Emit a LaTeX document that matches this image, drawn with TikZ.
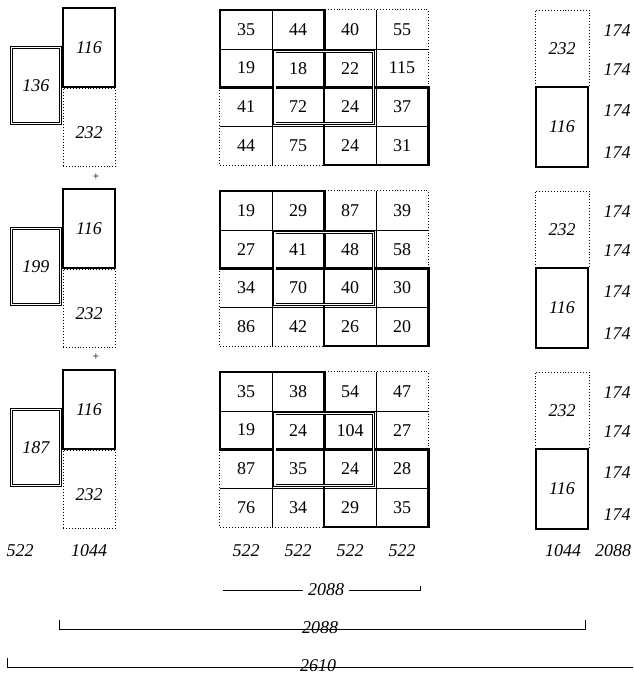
\documentclass[tikz,border=0pt]{standalone}
\usepackage{fontspec}
\setmainfont{Liberation Serif}
\usetikzlibrary{positioning}

\begin{document}
\begin{tikzpicture}[
  x=1pt, y=-1pt,
  every node/.style={font=\fontsize{18}{20}\selectfont},
  cell/.style={minimum width=52pt, minimum height=38.75pt, inner sep=0pt},
  dim/.style={font=\fontsize{18}{20}\selectfont\itshape, inner sep=1pt},
  heavybox/.style={draw, line width=2.6pt, minimum width=52pt, minimum height=79pt, inner sep=0pt, font=\fontsize{18}{20}\selectfont\itshape},
  dotbox/.style={draw, dotted, line width=0.9pt, minimum width=52pt, minimum height=78pt, inner sep=0pt, font=\fontsize{18}{20}\selectfont\itshape},
  dblbox/.style={draw, double, line width=0.9pt, double distance=1.6pt, minimum width=49pt, minimum height=76pt, inner sep=0pt, font=\fontsize{18}{20}\selectfont\itshape},
  heavy/.style={line width=2.6pt},
  thinline/.style={line width=0.8pt},
  dots/.style={dotted, line width=0.9pt},
  dblline/.style={double, line width=0.7pt, double distance=1.4pt}
]
  \useasboundingbox (0,0) rectangle (633,678);

  % cells of the three grids
  \foreach \v [count=\c] in {35,44,40,55}  \node[cell] (a-1-\c) at ({194+52*\c},29.4) {\v};
  \foreach \v [count=\c] in {19,18,22,115} \node[cell] (a-2-\c) at ({194+52*\c},68.1) {\v};
  \foreach \v [count=\c] in {41,72,24,37}  \node[cell] (a-3-\c) at ({194+52*\c},106.9) {\v};
  \foreach \v [count=\c] in {44,75,24,31}  \node[cell] (a-4-\c) at ({194+52*\c},145.6) {\v};
  \foreach \v [count=\c] in {19,29,87,39}  \node[cell] (b-1-\c) at ({194+52*\c},210.4) {\v};
  \foreach \v [count=\c] in {27,41,48,58}  \node[cell] (b-2-\c) at ({194+52*\c},249.1) {\v};
  \foreach \v [count=\c] in {34,70,40,30}  \node[cell] (b-3-\c) at ({194+52*\c},287.9) {\v};
  \foreach \v [count=\c] in {86,42,26,20}  \node[cell] (b-4-\c) at ({194+52*\c},326.6) {\v};
  \foreach \v [count=\c] in {35,38,54,47}  \node[cell] (c-1-\c) at ({194+52*\c},391.4) {\v};
  \foreach \v [count=\c] in {19,24,104,27} \node[cell] (c-2-\c) at ({194+52*\c},430.1) {\v};
  \foreach \v [count=\c] in {87,35,24,28}  \node[cell] (c-3-\c) at ({194+52*\c},468.9) {\v};
  \foreach \v [count=\c] in {76,34,29,35}  \node[cell] (c-4-\c) at ({194+52*\c},507.6) {\v};

  \foreach \p/\y/\s in {a/10/136, b/191/199, c/372/187} {
    % left stack
    \node[heavybox] (\p-big) at (89,{\y+37.5}) {116};
    \node[dotbox, below=0pt of \p-big] (\p-low) {};
    \node[dim] (\p-half) at (89,{\y+123}) {232};
    \node[dblbox] (\p-side) at (36,{\y+75.5}) {\s};
    % grid lines
    \draw[dots] (\p-1-3.north west) rectangle (\p-2-4.south east);
    \draw[dots] (\p-3-1.north west) rectangle (\p-4-2.south east);
    \foreach \k in {1,2,3} {
      \draw[thinline] (\p-\k-1.south west) -- (\p-\k-4.south east);
      \draw[thinline] (\p-1-\k.north east) -- (\p-4-\k.south east);
    }
    \draw[heavy] (\p-1-1.north west) rectangle (\p-2-2.south east);
    \draw[heavy] (\p-3-3.north west) rectangle (\p-4-4.south east);
    \draw[dblline] ([shift={(3,3)}]\p-2-2.north west) rectangle ([shift={(-3,-3)}]\p-3-3.south east);
    % right stack
    \node[dotbox, minimum width=54pt, minimum height=77pt] (\p-rtop) at (562,{\y+38.5}) {232};
    \node[heavybox, minimum height=80pt] (\p-rbox) at (562,{\y+117}) {116};
    \foreach \d [count=\j] in {21,60,101,143}
      \node[dim] (\p-r\j) at (617,{\y+\d}) {174};
  }

  \node[font=\fontsize{12}{13}\selectfont] (plusa) at (96,177) {+};
  \node[font=\fontsize{12}{13}\selectfont] (plusb) at (96,357) {+};

  % widths
  \node[dim] (w1) at (20,551) {522};
  \node[dim] (w2) at (89,551) {1044};
  \node[dim] (w3) at (246,551) {522};
  \node[dim] (w4) at (298,551) {522};
  \node[dim] (w5) at (350,551) {522};
  \node[dim] (w6) at (402,551) {522};
  \node[dim] (w7) at (563,551) {1044};
  \node[dim] (w8) at (613,551) {2088};

  % dimension lines
  \node[dim, inner xsep=5pt] (d1) at (326,590) {2088};
  \coordinate (d1l) at (223,590);
  \coordinate (d1r) at (420,590);
  \draw[thinline] (d1l) -- (d1.west);
  \draw[thinline] (d1.east) -- (d1r) -- ++(0,-4);

  \node[dim] (d2) at (320,628) {2088};
  \coordinate (d2l) at (59,629);
  \coordinate (d2r) at (585,629);
  \draw[thinline] ([yshift=9pt]d2l) -- (d2l) -- (d2r) -- ++(0,-9);

  \node[dim] (d3) at (318,666) {2610};
  \coordinate (d3l) at (7,667);
  \coordinate (d3r) at (633,667);
  \draw[thinline] ([yshift=9pt]d3l) -- (d3l) -- (d3r);
\end{tikzpicture}
\end{document}
